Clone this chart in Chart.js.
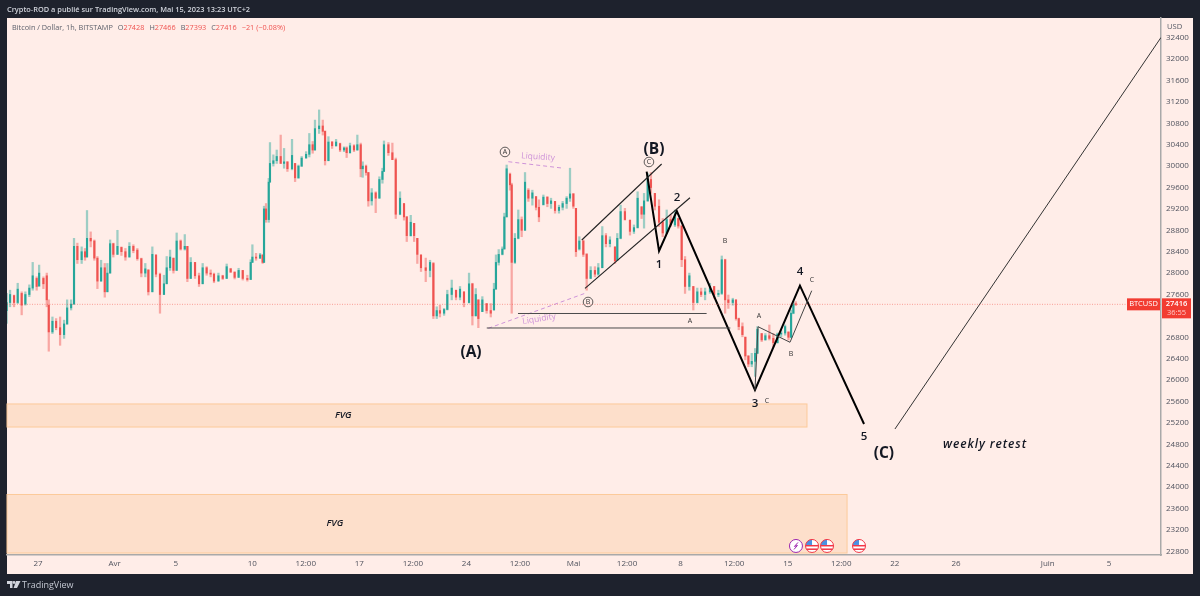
<!DOCTYPE html>
<html lang="fr">
<head>
  <meta charset="UTF-8">
  <title>Bitcoin / Dollar, 1h, BITSTAMP</title>
  <script src="https://cdn.jsdelivr.net/npm/chart.js"></script>
  <style>
    html, body {
      margin: 0;
      width: 1200px;
      height: 596px;
      overflow: hidden;
      background: #1e222d;
      font-family: "Open Sans", Roboto, sans-serif;
    }

    .panel {
      position: absolute;
      left: 7px;
      top: 18px;
      width: 1186px;
      height: 556px;
      background: #ffede8;
    }

    canvas {
      position: absolute;
      left: 0;
      top: 0;
    }

    .title {
      position: absolute;
      left: 7px;
      top: 4px;
      font-size: 7.4px;
      font-weight: 600;
      line-height: 11px;
      color: #d1d4dc;
      white-space: nowrap;
    }

    .legend {
      position: absolute;
      left: 12px;
      top: 22px;
      font-size: 7.3px;
      line-height: 10px;
      color: #5d606b;
      white-space: nowrap;
    }

    .legend b {
      font-weight: normal;
      color: #ef5350;
    }

    .legend span {
      margin-left: 5px;
    }

    .usd {
      position: absolute;
      left: 1167px;
      top: 21px;
      font-size: 7.6px;
      line-height: 10px;
      color: #555964;
    }

    .brand {
      position: absolute;
      left: 22px;
      top: 579px;
      font-size: 9px;
      line-height: 12px;
      color: #c3c7d1;
    }

    .logo {
      position: absolute;
      left: 7px;
      top: 581px;
    }
  </style>
</head>
<body>

<div class="panel"></div>
<canvas id="chart" width="1200" height="596"></canvas>

<div class="title">Crypto-ROD a publié sur TradingView.com, Mai 15, 2023 13:23 UTC+2</div>
<div class="legend">Bitcoin / Dollar, 1h, BITSTAMP<span>O<b>27428</b></span><span>H<b>27466</b></span><span>B<b>27393</b></span><span>C<b>27416</b></span><span><b>−21 (−0.08%)</b></span></div>
<div class="usd">USD</div>
<svg class="logo" width="14" height="8" viewBox="0 0 14 8">
  <path d="M0 0h5.5v7H3V3H0z M9 0h4.5L10 7H6.6z" fill="#d1d4dc"/>
  <circle cx="7" cy="1.5" r="1.4" fill="#d1d4dc"/>
</svg>
<div class="brand">TradingView</div>

<script>
  // days counted from 27 March 00:00
  const candleDays = [
    -2.05, -1.83, -1.57, -1.33, -1.07, -0.83, -0.57, -0.35, -0.09, 0.07,
    0.35, 0.57, 0.70, 0.94, 1.18, 1.44, 1.70, 1.90, 2.16, 2.35,
    2.57, 2.85, 3.07, 3.20, 3.44, 3.68, 3.88, 4.12, 4.36, 4.53,
    4.71, 4.92, 5.19, 5.45, 5.71, 5.97, 6.23, 6.49, 6.75, 7.01,
    7.21, 7.47, 7.71, 7.97, 8.23, 8.41, 8.63, 8.85, 9.06, 9.32,
    9.59, 9.76, 9.98, 10.26, 10.52, 10.76, 11.02, 11.28, 11.50, 11.79,
    12.07, 12.33, 12.59, 12.85, 13.11, 13.38, 13.68, 13.90, 14.01, 14.25,
    14.51, 14.68, 14.77, 14.90, 15.08, 15.16, 15.38, 15.60, 15.86, 16.08,
    16.30, 16.60, 16.80, 17.02, 17.23, 17.52, 17.73, 17.95, 18.10, 18.37,
    18.61, 18.76, 18.98, 19.22, 19.48, 19.74, 20.00, 20.17, 20.39, 20.65,
    20.87, 21.09, 21.22, 21.44, 21.59, 21.81, 22.07, 22.31, 22.51, 22.61,
    22.90, 23.16, 23.38, 23.66, 23.92, 24.10, 24.36, 24.58, 24.79, 25.03,
    25.34, 25.62, 25.84, 26.06, 26.27, 26.54, 26.75, 27.04, 27.32, 27.58,
    27.84, 28.17, 28.39, 28.61, 28.78, 29.04, 29.32, 29.59, 29.80, 29.93,
    30.11, 30.35, 30.48, 30.63, 30.85, 30.96, 31.17, 31.39, 31.61, 31.83,
    32.05, 32.31, 32.55, 32.74, 33.03, 33.29, 33.53, 33.79, 34.05, 34.29,
    34.55, 34.77, 34.99, 35.16, 35.38, 35.64, 35.86, 36.12, 36.40, 36.62,
    36.88, 37.12, 37.38, 37.71, 37.86, 38.08, 38.36, 38.69, 38.95, 39.19,
    39.45, 39.61, 39.85, 40.06, 40.32, 40.59, 40.83, 41.09, 41.35, 41.63,
    41.85, 42.07, 42.29, 42.57, 42.83, 43.09, 43.34, 43.60, 43.92, 44.19,
    44.47, 44.69, 44.91, 45.12, 45.41, 45.62, 45.80, 46.04, 46.23, 46.43,
    46.65, 46.87, 47.02, 47.30, 47.54, 47.80, 48.06, 48.33, 48.57, 48.83,
    49.05, 49.22, 49.37, 49.53
  ];

  const opens = [
    27300, 27450, 27580, 27450, 27620, 27420, 27600, 27720, 27900, 27760,
    27900, 27950, 27400, 26900, 27100, 26980, 26850, 27050, 27350, 27420,
    28500, 28250, 28400, 28300, 28650, 28600, 28280, 27850, 28100, 27650,
    28000, 28550, 28350, 28480, 28400, 28300, 28500, 28430, 28270, 28000,
    28060, 27650, 28340, 27980, 27600, 27800, 28100, 28280, 28050, 28600,
    28450, 28500, 27900, 28200, 27950, 27800, 28100, 28000, 27980, 27850,
    27950, 27900, 28080, 28020, 27920, 28050, 27900, 27880, 28200, 28300,
    28280, 28340, 28200, 29200, 29000, 29700, 30050, 30100, 30180, 30050,
    30080, 29950, 30050, 29780, 30000, 30150, 30220, 30400, 30300, 30700,
    30750, 30650, 30100, 30450, 30380, 30420, 30300, 30340, 30250, 30380,
    30300, 30400, 29950, 30000, 29880, 29350, 29500, 29400, 29750, 29900,
    30400, 30250, 30120, 29100, 29300, 29050, 28700, 28930, 28650, 28340,
    28100, 28050, 28180, 27200, 27300, 27250, 27320, 27600, 27680, 27550,
    27650, 27450, 27800, 27200, 27500, 27280, 27430, 27300, 27310, 27700,
    28200, 28350, 28450, 29050, 29850, 29650, 28200, 28650, 29000, 28800,
    29550, 29400, 29430, 29230, 29280, 29420, 29300, 29340, 29170, 29230,
    29300, 29400, 29480, 29210, 28450, 28600, 28350, 27900, 28050, 27980,
    28100, 28700, 28550, 28490, 28240, 28650, 29150, 28990, 28780, 28850,
    29240, 29100, 29350, 29750, 29490, 29250, 28950, 28750, 29000, 28900,
    29020, 28880, 28250, 27750, 27750, 27450, 27650, 27600, 27650, 27750,
    27600, 27620, 28250, 27500, 27450, 27500, 27150, 27000, 26800, 26450,
    26300, 26350, 26500, 26870, 26750, 26830, 26780, 26700, 26860, 26880,
    26900, 26800, 27250, 27428
  ];

  const highs = [
    27620, 27680, 27590, 27810, 27650, 27650, 27780, 28200, 27930, 28150,
    27930, 28000, 27500, 27180, 27150, 27180, 27120, 27500, 27500, 28650,
    28560, 28490, 28460, 29170, 28770, 28620, 28310, 28240, 28180, 28180,
    28620, 28560, 28800, 28490, 28460, 28570, 28530, 28460, 28280, 28180,
    28060, 28490, 28340, 28000, 27960, 28310, 28430, 28280, 28750, 28620,
    28720, 28500, 28290, 28200, 28000, 28180, 28120, 28060, 28000, 28000,
    27960, 28170, 28090, 28020, 28090, 28050, 27960, 28250, 28530, 28370,
    28370, 28340, 29250, 29300, 29770, 30440, 30210, 30300, 30580, 30330,
    30080, 30500, 30050, 30020, 30180, 30270, 30610, 30460, 30860, 31050,
    30860, 30660, 30550, 30460, 30500, 30430, 30360, 30360, 30430, 30400,
    30580, 30430, 30080, 30020, 29880, 29580, 29520, 29800, 29960, 30470,
    30440, 30430, 30150, 29520, 29300, 29060, 29080, 28930, 28650, 28340,
    28280, 28240, 28200, 27370, 27400, 27340, 27680, 27870, 27680, 27750,
    27650, 28000, 27810, 27710, 27500, 27560, 27430, 27430, 27810, 28340,
    28440, 28490, 29120, 30020, 29870, 29680, 28740, 29180, 29050, 29880,
    29580, 29550, 29430, 29370, 29460, 29430, 29400, 29340, 29270, 29340,
    29430, 29960, 29490, 29210, 28680, 28620, 28370, 28120, 28120, 28180,
    28870, 28740, 28680, 28490, 28740, 29270, 29210, 28990, 28900, 29520,
    29240, 29490, 29860, 29880, 29490, 29370, 29020, 29180, 29090, 29180,
    29020, 28890, 28310, 28000, 27750, 27720, 27720, 27720, 27810, 27750,
    27680, 28320, 28260, 27590, 27530, 27500, 27160, 27070, 26810, 26460,
    26500, 26590, 27000, 26870, 26870, 27030, 26870, 26880, 26930, 27030,
    26900, 27310, 27470, 27466
  ];

  const lows = [
    27060, 27370, 27370, 27430, 27220, 27400, 27560, 27680, 27680, 27750,
    27710, 27370, 26540, 26870, 26940, 26650, 26780, 27040, 27310, 27420,
    28180, 28180, 28240, 28300, 28490, 28240, 27710, 27850, 27550, 27650,
    28000, 28300, 28350, 28330, 28240, 28300, 28380, 28240, 27930, 27930,
    27590, 27650, 27930, 27250, 27600, 27800, 28050, 28000, 28050, 28430,
    28430, 27840, 27900, 27900, 27750, 27800, 27960, 27930, 27820, 27850,
    27880, 27900, 28010, 27890, 27920, 27870, 27850, 27880, 28200, 28240,
    28270, 28180, 28200, 28950, 28950, 29700, 30000, 30050, 30050, 29960,
    29900, 29930, 29710, 29770, 29990, 30150, 30170, 30240, 30300, 30610,
    30580, 30020, 30100, 30330, 30370, 30270, 30270, 30160, 30240, 30270,
    30300, 29800, 29790, 29830, 29250, 29270, 29130, 29400, 29680, 29900,
    30200, 30120, 29020, 29090, 28990, 28590, 28690, 28590, 28180, 28030,
    27840, 27930, 27150, 27150, 27180, 27210, 27310, 27500, 27500, 27500,
    27370, 27440, 27030, 27200, 26980, 27280, 27250, 27180, 27310, 27700,
    28150, 28340, 28450, 29050, 29550, 27250, 28180, 28640, 28680, 28800,
    29340, 29270, 29180, 28960, 29270, 29240, 29210, 29120, 29120, 29180,
    29210, 29340, 29210, 28310, 28430, 28310, 27680, 27900, 27930, 27960,
    28100, 28490, 28490, 28180, 28240, 28640, 28990, 28710, 28740, 28840,
    29020, 28840, 29340, 29490, 29180, 28870, 28680, 28740, 28870, 28870,
    28840, 28120, 27620, 27680, 27310, 27440, 27560, 27500, 27620, 27530,
    27560, 27600, 27250, 27340, 27400, 27120, 26940, 26810, 26380, 26250,
    26250, 26070, 26500, 26720, 26750, 26750, 26620, 26690, 26810, 26840,
    26750, 26790, 27240, 27393
  ];

  const closes = [
    27450, 27600, 27450, 27700, 27400, 27600, 27720, 27950, 27750, 28000,
    27800, 27500, 26900, 27100, 26980, 26850, 27050, 27350, 27420, 28500,
    28250, 28400, 28300, 28650, 28600, 28280, 27850, 28100, 27650, 28000,
    28550, 28350, 28500, 28400, 28300, 28500, 28420, 28270, 28000, 28080,
    27650, 28350, 27980, 27600, 27800, 28100, 28300, 28050, 28600, 28450,
    28500, 27900, 28200, 27950, 27800, 28100, 28000, 27980, 27850, 27950,
    27900, 28120, 28020, 27920, 28050, 27900, 27880, 28200, 28300, 28280,
    28340, 28200, 29200, 29000, 29700, 30050, 30100, 30180, 30050, 30080,
    29950, 30200, 29780, 30000, 30150, 30220, 30400, 30300, 30700, 30750,
    30650, 30100, 30450, 30380, 30450, 30300, 30340, 30250, 30380, 30300,
    30400, 29950, 30000, 29880, 29350, 29500, 29400, 29750, 29900, 30400,
    30250, 30120, 29100, 29400, 29050, 28700, 28950, 28700, 28350, 28100,
    28050, 28200, 27200, 27300, 27250, 27320, 27600, 27720, 27550, 27700,
    27450, 27800, 27200, 27600, 27150, 27500, 27300, 27250, 27700, 28200,
    28350, 28450, 29050, 29950, 29650, 28200, 28650, 29000, 28800, 29700,
    29400, 29500, 29230, 29050, 29420, 29300, 29350, 29170, 29230, 29300,
    29400, 29480, 29250, 28400, 28600, 28350, 27900, 28050, 27980, 28100,
    28700, 28550, 28620, 28230, 28650, 29150, 29000, 28780, 28850, 29400,
    29100, 29350, 29750, 29600, 29250, 28950, 28750, 29000, 28900, 29050,
    28880, 28250, 27750, 27950, 27450, 27650, 27600, 27650, 27750, 27600,
    27620, 28250, 27500, 27450, 27500, 27150, 27000, 26850, 26450, 26300,
    26350, 26500, 26950, 26750, 26830, 26780, 26700, 26860, 26880, 27000,
    26800, 27250, 27420, 27416
  ];

  const priceTicks = [22800, 23200, 23600, 24000, 24400, 24800, 25200, 25600, 26000, 26400, 26800, 27200, 27600,
    28000, 28400, 28800, 29200, 29600, 30000, 30400, 30800, 31200, 31600, 32000, 32400];
  const timeTicks = [0, 5, 9, 14, 17.5, 21, 24.5, 28, 31.5, 35, 38.5, 42, 45.5, 49, 52.5, 56, 60, 66, 70];
  const timeLabels = ["27", "Avr", "5", "10", "12:00", "17", "12:00", "24", "12:00", "Mai", "12:00", "8", "12:00", "15", "12:00", "22", "26", "Juin", "5"];

  const lastPrice = 27416;
  const countdown = "36:55";

  // drawn wave count
  const waveDays = [39.78, 40.59, 41.75, 46.86, 49.80, 53.99];
  const wavePrices = [29895, 28413, 29161, 25815, 27765, 25179];
  const retestDays = [56.01, 73.4];
  const retestPrices = [25086, 32404];
  const channelTopDays = [35.54, 40.76];
  const channelTopPrices = [28619, 30039];
  const channelLowDays = [35.75, 42.61];
  const channelLowPrices = [27716, 29409];
  const levelOneDays = [31.37, 43.70];
  const levelOnePrices = [27245, 27245];
  const levelTwoDays = [29.33, 45.25];
  const levelTwoPrices = [26974, 26974];
  const abcDays = [46.86, 47.06, 49.15, 50.57];
  const abcPrices = [25815, 26998, 26707, 27671];
  const liquidityTopDays = [30.74, 34.38];
  const liquidityTopPrices = [30082, 29959];
  const liquidityLowDays = [29.43, 35.75];
  const liquidityLowPrices = [26968, 27622];
  const lastDays = [-2.03, 73.4];
  const lastPrices = [lastPrice, lastPrice];

  const zoneStarts = [-2.03, -2.03];
  const zoneEnds = [50.26, 52.88];
  const zoneTops = [25554, 23862];
  const zoneBottoms = [25123, 22768];

  const labelTexts = ["(A)", "(B)", "(C)", "1", "2", "3", "4", "5"];
  const labelDays = [28.30, 40.26, 55.29, 40.59, 41.76, 46.86, 49.80, 53.99];
  const labelPrices = [26506, 30301, 24619, 28152, 29404, 25553, 28021, 24936];

  const smallTexts = ["A", "B", "B", "C", "C", "A"];
  const smallDays = [47.12, 44.90, 49.22, 47.65, 50.59, 42.61];
  const smallPrices = [27199, 28600, 26488, 25609, 27871, 27105];

  const circleTexts = ["A", "B", "C"];
  const circleDays = [30.52, 35.95, 39.93];
  const circlePrices = [30264, 27460, 30077];

  const eventDays = [50.59, 51.57, 53.66];
  const boltDay = 49.54;
  const eventPrice = 22900;

  const upColor = "#26a69a";
  const downColor = "#ef5350";
  const upWick = "rgba(38,166,154,0.45)";
  const downWick = "rgba(239,83,80,0.45)";

  function isUp(i) {
    return closes[i] >= opens[i];
  }

  function lineSet(days, prices, color, width, dash) {
    return {
      type: "line",
      data: days.map((d, i) => ({ x: d, y: prices[i] })),
      borderColor: color,
      borderWidth: width,
      borderDash: dash || [],
      pointRadius: 0,
      tension: 0,
      order: 0
    };
  }

  const drawings = {
    id: "drawings",
    beforeDatasetsDraw(chart) {
      const { ctx, scales: { x, y } } = chart;
      ctx.save();
      zoneStarts.forEach((start, i) => {
        const left = x.getPixelForValue(start);
        const right = x.getPixelForValue(zoneEnds[i]);
        const top = y.getPixelForValue(zoneTops[i]);
        const bottom = y.getPixelForValue(zoneBottoms[i]);
        ctx.fillStyle = "#fddfcb";
        ctx.fillRect(left, top, right - left, bottom - top);
        ctx.strokeStyle = "#fcca9a";
        ctx.lineWidth = 1;
        ctx.strokeRect(left, top, right - left, bottom - top);
      });
      ctx.restore();
    },
    afterDatasetsDraw(chart) {
      const { ctx, scales: { x, y }, chartArea } = chart;
      ctx.save();
      ctx.textAlign = "center";
      ctx.textBaseline = "middle";

      // wave labels
      labelTexts.forEach((t, i) => {
        const big = t.length > 1;
        ctx.font = big ? "700 15.5px 'Open Sans'" : "600 11.5px 'Open Sans'";
        ctx.fillStyle = "#131722";
        ctx.fillText(t, x.getPixelForValue(labelDays[i]), y.getPixelForValue(labelPrices[i]));
      });

      ctx.font = "7px 'Open Sans'";
      ctx.fillStyle = "#333";
      smallTexts.forEach((t, i) => {
        ctx.fillText(t, x.getPixelForValue(smallDays[i]), y.getPixelForValue(smallPrices[i]));
      });

      circleTexts.forEach((t, i) => {
        const cx = x.getPixelForValue(circleDays[i]);
        const cy = y.getPixelForValue(circlePrices[i]);
        ctx.beginPath();
        ctx.arc(cx, cy, 4.8, 0, Math.PI * 2);
        ctx.strokeStyle = "#333";
        ctx.lineWidth = 0.8;
        ctx.stroke();
        ctx.font = "7px 'Open Sans'";
        ctx.fillStyle = "#333";
        ctx.fillText(t, cx, cy + 0.3);
      });

      // rotated liquidity notes
      ctx.font = "8.5px 'Open Sans'";
      ctx.fillStyle = "#ce93d8";
      ctx.save();
      ctx.translate(x.getPixelForValue(32.68), y.getPixelForValue(30170));
      ctx.rotate(0.07);
      ctx.fillText("Liquidity", 0, 0);
      ctx.restore();
      ctx.save();
      ctx.translate(x.getPixelForValue(32.75), y.getPixelForValue(27142));
      ctx.rotate(-0.16);
      ctx.fillText("Liquidity", 0, 0);
      ctx.restore();

      ctx.fillStyle = "#131722";
      ctx.font = "italic 600 9.5px 'Open Sans'";
      ctx.fillText("FVG", x.getPixelForValue(19.95), y.getPixelForValue(25348));
      ctx.fillText("FVG", x.getPixelForValue(19.4), y.getPixelForValue(23330));
      ctx.font = "italic 600 12px 'Open Sans'";
      ctx.letterSpacing = "0.9px";
      ctx.fillText("weekly retest", x.getPixelForValue(61.9), y.getPixelForValue(24790));
      ctx.letterSpacing = "0px";

      // calendar events on the time axis
      const ey = y.getPixelForValue(eventPrice);
      const bx = x.getPixelForValue(boltDay);
      ctx.beginPath();
      ctx.arc(bx, ey, 6.5, 0, Math.PI * 2);
      ctx.fillStyle = "#fff";
      ctx.fill();
      ctx.strokeStyle = "#9c27b0";
      ctx.lineWidth = 1;
      ctx.stroke();
      ctx.beginPath();
      ctx.moveTo(bx + 2, ey - 3.5);
      ctx.lineTo(bx - 1.5, ey + 0.5);
      ctx.lineTo(bx + 1.5, ey - 0.5);
      ctx.lineTo(bx - 2, ey + 3.5);
      ctx.strokeStyle = "#9c27b0";
      ctx.stroke();

      eventDays.forEach(d => {
        const ex = x.getPixelForValue(d);
        ctx.save();
        ctx.beginPath();
        ctx.arc(ex, ey, 6.5, 0, Math.PI * 2);
        ctx.fillStyle = "#fff";
        ctx.fill();
        ctx.clip();
        ctx.fillStyle = "#f23645";
        ctx.fillRect(ex - 7, ey - 1, 14, 1.5);
        ctx.fillRect(ex - 7, ey + 2.5, 14, 1.5);
        ctx.fillStyle = "#4a90e2";
        ctx.fillRect(ex - 7, ey - 7, 7, 6);
        ctx.restore();
        ctx.beginPath();
        ctx.arc(ex, ey, 6.5, 0, Math.PI * 2);
        ctx.strokeStyle = "#f23645";
        ctx.lineWidth = 1;
        ctx.stroke();
      });

      // last price tags
      const py = y.getPixelForValue(lastPrice);
      ctx.fillStyle = "#f23c32";
      ctx.fillRect(chartArea.right - 34, py - 6, 33, 12);
      ctx.fillRect(chartArea.right + 1, py - 6, 29, 20);
      ctx.fillStyle = "#fff";
      ctx.font = "7.5px 'Open Sans'";
      ctx.fillText("BTCUSD", chartArea.right - 17.5, py);
      ctx.font = "600 7.5px 'Open Sans'";
      ctx.fillText(String(lastPrice), chartArea.right + 15.5, py - 0.5);
      ctx.font = "7.5px 'Open Sans'";
      ctx.fillStyle = "#ffc9c5";
      ctx.fillText(countdown, chartArea.right + 15.5, py + 8.5);
      ctx.restore();
    }
  };

  new Chart(document.getElementById("chart"), {
    type: "bar",
    data: {
      datasets: [
        lineSet(lastDays, lastPrices, "rgba(242,60,50,0.45)", 1, [1, 1.5]),
        {
          data: candleDays.map((d, i) => ({ x: d, y: [lows[i], highs[i]] })),
          backgroundColor: candleDays.map((d, i) => isUp(i) ? upWick : downWick),
          barThickness: 1.6,
          grouped: false,
          order: 3
        },
        {
          data: candleDays.map((d, i) => ({ x: d, y: [opens[i], closes[i]] })),
          backgroundColor: candleDays.map((d, i) => isUp(i) ? upColor : downColor),
          barThickness: 1.4,
          grouped: false,
          order: 2
        },
        lineSet(levelOneDays, levelOnePrices, "#4a4a4a", 1),
        lineSet(levelTwoDays, levelTwoPrices, "#4a4a4a", 1),
        lineSet(liquidityTopDays, liquidityTopPrices, "#ce93d8", 1, [4, 3]),
        lineSet(liquidityLowDays, liquidityLowPrices, "#ce93d8", 1, [4, 3]),
        lineSet(channelTopDays, channelTopPrices, "#222", 1.1),
        lineSet(channelLowDays, channelLowPrices, "#222", 1.1),
        lineSet(abcDays, abcPrices, "#444", 1),
        lineSet(retestDays, retestPrices, "#333", 1),
        lineSet(waveDays, wavePrices, "#000", 2)
      ]
    },
    options: {
      responsive: false,
      animation: false,
      layout: { padding: { left: 7, top: 18, right: 7, bottom: 23 } },
      plugins: { legend: { display: false }, tooltip: { enabled: false } },
      scales: {
        x: {
          type: "linear",
          offset: false,
          min: -2.03,
          max: 73.4,
          afterBuildTicks: scale => { scale.ticks = timeTicks.map(v => ({ value: v })); },
          afterFit: scale => { scale.height = 18; },
          grid: { display: false, drawTicks: false },
          border: { display: true, color: "#a9a9a9", width: 1.5 },
          ticks: {
            autoSkip: false,
            maxRotation: 0,
            padding: 4,
            color: "#50535e",
            font: { size: 8, family: "'Open Sans'" },
            callback: v => timeLabels[timeTicks.indexOf(v)]
          }
        },
        y: {
          position: "right",
          min: 22731,
          max: 32768,
          afterBuildTicks: scale => { scale.ticks = priceTicks.map(v => ({ value: v })); },
          afterFit: scale => { scale.width = 32; },
          grid: { display: false, drawTicks: false },
          border: { display: true, color: "#a9a9a9", width: 1.5 },
          ticks: {
            autoSkip: false,
            padding: 5,
            color: "#50535e",
            font: { size: 8, family: "'Open Sans'" },
            callback: v => String(v)
          }
        }
      }
    },
    plugins: [drawings]
  });
</script>

</body>
</html>
